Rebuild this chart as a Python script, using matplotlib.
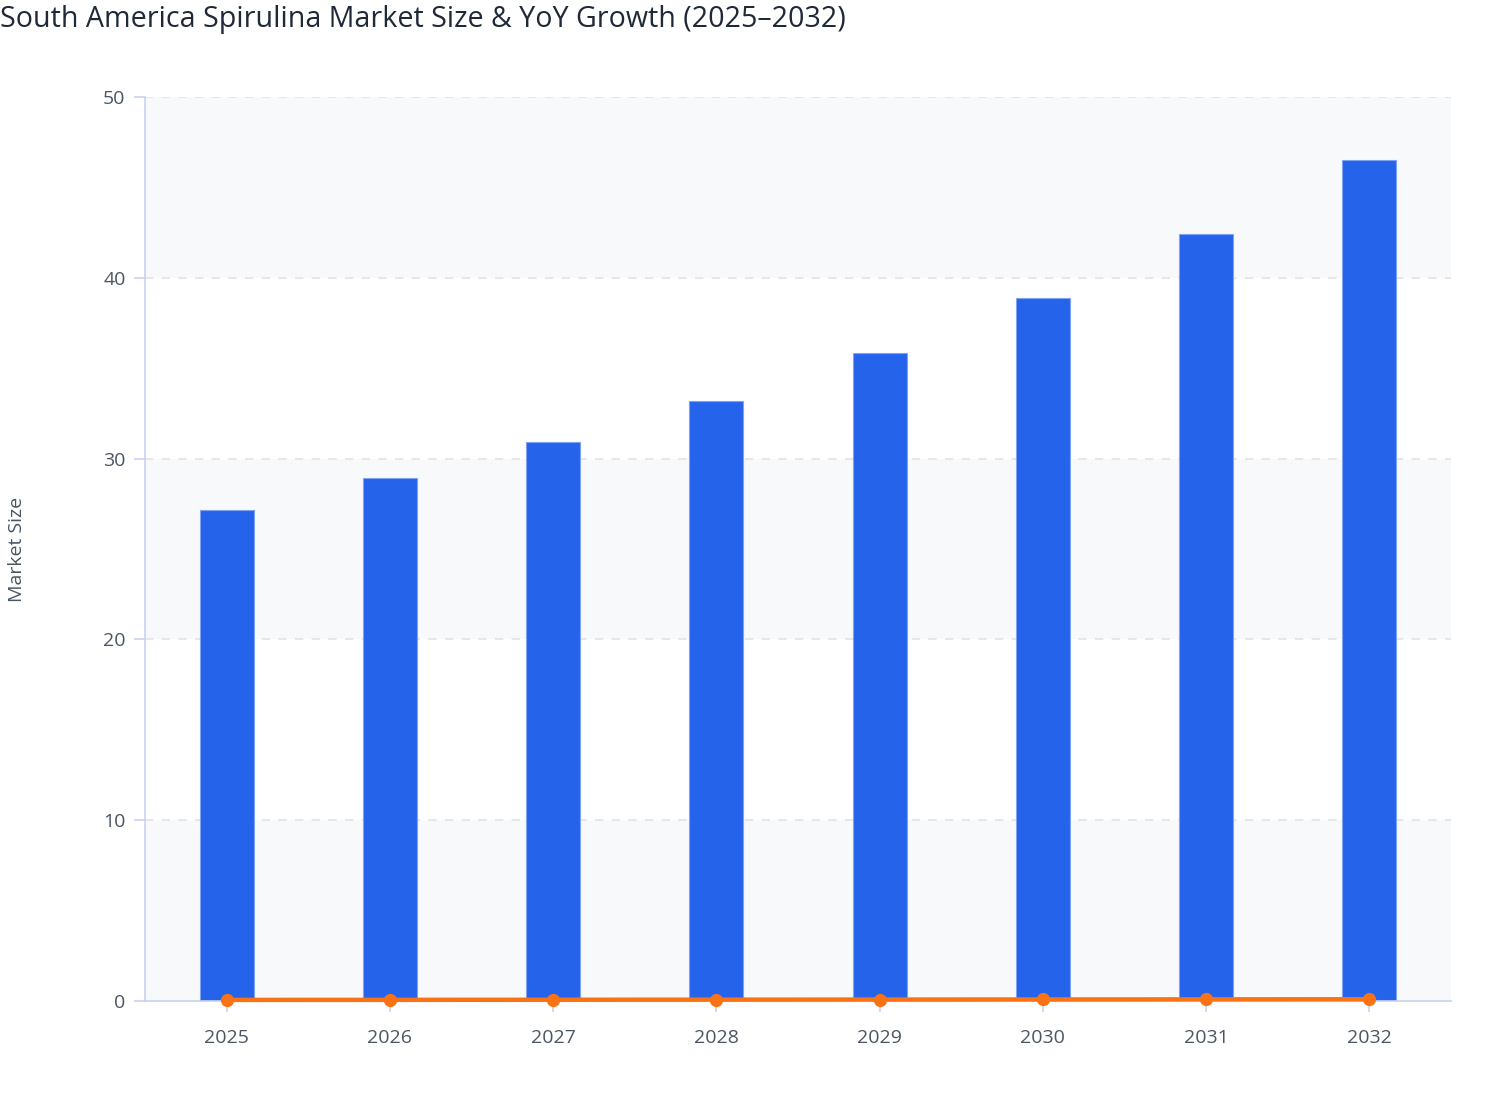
import numpy as np
import matplotlib.pyplot as plt

years = [2025, 2026, 2027, 2028, 2029, 2030, 2031, 2032]
market_size = [27.16, 28.91, 30.90, 33.17, 35.82, 38.88, 42.41, 46.52]
yoy_growth = [0.060, 0.064, 0.069, 0.074, 0.080, 0.085, 0.091, 0.097]
y_ticks = [0, 10, 20, 30, 40, 50]

plt.rcParams['font.family'] = ['Open Sans', 'DejaVu Sans']

fig = plt.figure(figsize=(15.08, 11.2), dpi=100)
ax = fig.add_axes([145 / 1508, 1 - 1001 / 1120, (1451 - 145) / 1508, (1001 - 97) / 1120])

x = np.arange(len(years))

# alternating bands
for i in range(0, len(y_ticks) - 1, 2):
    ax.axhspan(y_ticks[i], y_ticks[i + 1], color='#f8f9fb', zorder=0, lw=0)

for t in y_ticks[1:]:
    ax.axhline(t, color='#e5e7eb', lw=1.5, ls=(0, (4, 4)), zorder=1)

ax.bar(x, market_size, width=0.33, color='#2563eb', edgecolor='#7fa2f2', linewidth=0.8, zorder=2)
ax.plot(x, yoy_growth, color='#f97316', lw=3.2, marker='o', markersize=8.5, zorder=3, clip_on=False)

ax.set_xlim(-0.5, len(years) - 0.5)
ax.set_ylim(0, 50)
ax.set_xticks(x)
ax.set_xticklabels([str(y) for y in years])
ax.set_yticks(y_ticks)

for s in ['top', 'right']:
    ax.spines[s].set_visible(False)
for s in ['left', 'bottom']:
    ax.spines[s].set_color('#c9d3f0')
    ax.spines[s].set_linewidth(1.2)
ax.tick_params(axis='both', colors='#c9d3f0', labelcolor='#4b5563', labelsize=14, length=8, width=1.2, pad=6)
ax.tick_params(axis='x', pad=12)
ax.set_facecolor('white')

fig.text(17 / 1508, 1 - 549 / 1120, 'Market Size', rotation=90, va='center', ha='center',
         fontsize=14, color='#4b5563')
fig.text(0.0, 1 - 19 / 1120, 'South America Spirulina Market Size & YoY Growth (2025\u20132032)',
         ha='left', va='center', fontsize=20.6, color='#1f2937', fontweight='medium')

fig.savefig('out.png', dpi=100)
